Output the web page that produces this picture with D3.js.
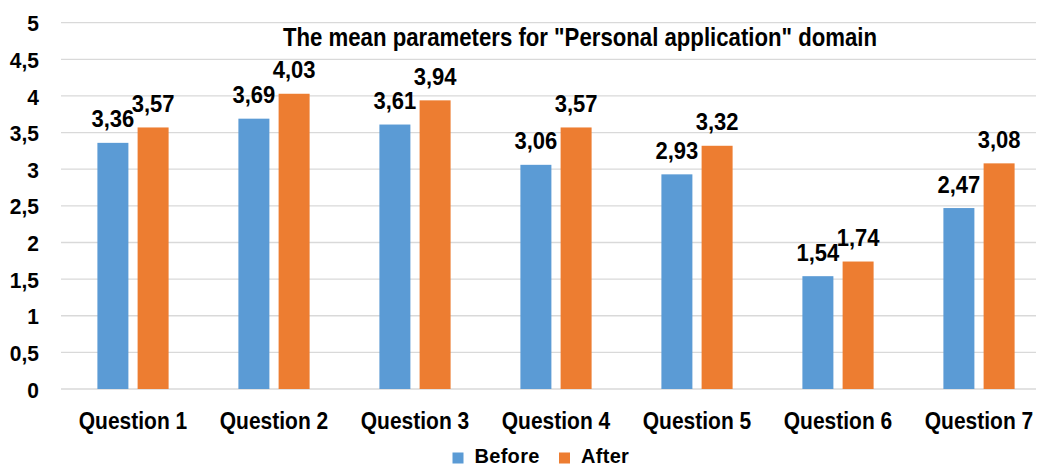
<!DOCTYPE html>
<html>
<head>
<meta charset="utf-8">
<script src="https://cdn.jsdelivr.net/npm/d3@7"></script>
<style>
  html, body { margin: 0; padding: 0; background: #fff; }
  svg { display: block; font-family: "Liberation Sans", Arial, sans-serif; }
</style>
</head>
<body>
<svg id="chart" width="1040" height="468"></svg>
<script>
// Mean scores per question, before and after
const questions = ["Question 1", "Question 2", "Question 3", "Question 4", "Question 5", "Question 6", "Question 7"];
const seriesNames = ["Before", "After"];
const beforeValues = [3.36, 3.69, 3.61, 3.06, 2.93, 1.54, 2.47];
const afterValues = [3.57, 4.03, 3.94, 3.57, 3.32, 1.74, 3.08];
const yTicks = [0, 0.5, 1, 1.5, 2, 2.5, 3, 3.5, 4, 4.5, 5];
const titleText = 'The mean parameters for "Personal application" domain';

const colors = { Before: "#5B9BD5", After: "#ED7D31" };
const fmt = v => d3.format(".2f")(v).replace(".", ",");
const tickFmt = v => String(v).replace(".", ",");

const rows = questions.map((q, i) => ({ q, Before: beforeValues[i], After: afterValues[i] }));

const svg = d3.select("#chart");

const y = d3.scaleLinear().domain([0, 5]).range([389, 22.7]);
const x0 = d3.scaleBand().domain(questions).range([62.5, 1049.5])
  .paddingInner(0.495).paddingOuter(0.2475);
const x1 = d3.scaleBand().domain(seriesNames).range([0, x0.bandwidth()])
  .paddingInner(0.229).paddingOuter(0);

// Horizontal gridlines
svg.append("g").selectAll("line").data(yTicks).join("line")
  .attr("x1", 61).attr("x2", 1036)
  .attr("y1", d => y(d)).attr("y2", d => y(d))
  .attr("stroke", "#D9D9D9").attr("stroke-width", 1.3);

// Value axis labels (slightly tall lettering)
const yAxis = d3.axisLeft(y).tickValues(yTicks).tickFormat(tickFmt).tickSize(0).tickPadding(0);
const gy = svg.append("g").attr("transform", "translate(39,0)").call(yAxis);
gy.select(".domain").remove();
gy.selectAll("text")
  .attr("font-size", 21).attr("font-weight", "bold").attr("fill", "#000")
  .attr("font-family", '"Liberation Sans", Arial, sans-serif')
  .attr("x", 0).attr("y", 7.6).attr("dy", null)
  .attr("transform", "scale(1,1.06)");

// Bars
const groups = svg.append("g").selectAll("g").data(rows).join("g")
  .attr("transform", d => `translate(${x0(d.q)},0)`);

groups.selectAll("rect").data(d => seriesNames.map(k => ({ k, v: d[k] }))).join("rect")
  .attr("x", d => x1(d.k))
  .attr("width", x1.bandwidth())
  .attr("y", d => y(d.v))
  .attr("height", d => y(0) - y(d.v))
  .attr("fill", d => colors[d.k]);

// Data labels
groups.selectAll("text.val").data(d => seriesNames.map(k => ({ k, v: d[k] }))).join("text")
  .attr("class", "val")
  .attr("transform", d => `translate(${x1(d.k) + x1.bandwidth() / 2},${y(d.v) - 15.5}) scale(1,1.07)`)
  .attr("text-anchor", "middle")
  .attr("font-size", 22).attr("font-weight", "bold").attr("fill", "#000")
  .text(d => fmt(d.v));

// Category axis labels
const xAxis = d3.axisBottom(x0).tickSize(0).tickPadding(0);
const gx = svg.append("g").attr("transform", "translate(0,429)").call(xAxis);
gx.select(".domain").remove();
gx.selectAll("text")
  .attr("font-size", 21).attr("font-weight", "bold").attr("fill", "#000")
  .attr("font-family", '"Liberation Sans", Arial, sans-serif')
  .attr("y", 0).attr("dy", null)
  .attr("transform", "scale(1,1.18)");

// Title
svg.append("text")
  .attr("transform", "translate(580,46) scale(1,1.12)")
  .attr("text-anchor", "middle")
  .attr("font-size", 22.2).attr("font-weight", "bold").attr("fill", "#000")
  .text(titleText);

// Legend
const legendItems = [
  { k: "Before", x: 452.5 },
  { k: "After", x: 559 }
];
const lg = svg.append("g").selectAll("g").data(legendItems).join("g")
  .attr("transform", d => `translate(${d.x},0)`);
lg.append("rect").attr("x", 0).attr("y", 452.5).attr("width", 11).attr("height", 11)
  .attr("fill", d => colors[d.k]);
lg.append("text").attr("transform", "translate(22,463.2) scale(1,1.05)")
  .attr("font-size", 20).attr("font-weight", "bold").attr("fill", "#000")
  .attr("letter-spacing", 0.3)
  .text(d => d.k);
</script>
</body>
</html>
